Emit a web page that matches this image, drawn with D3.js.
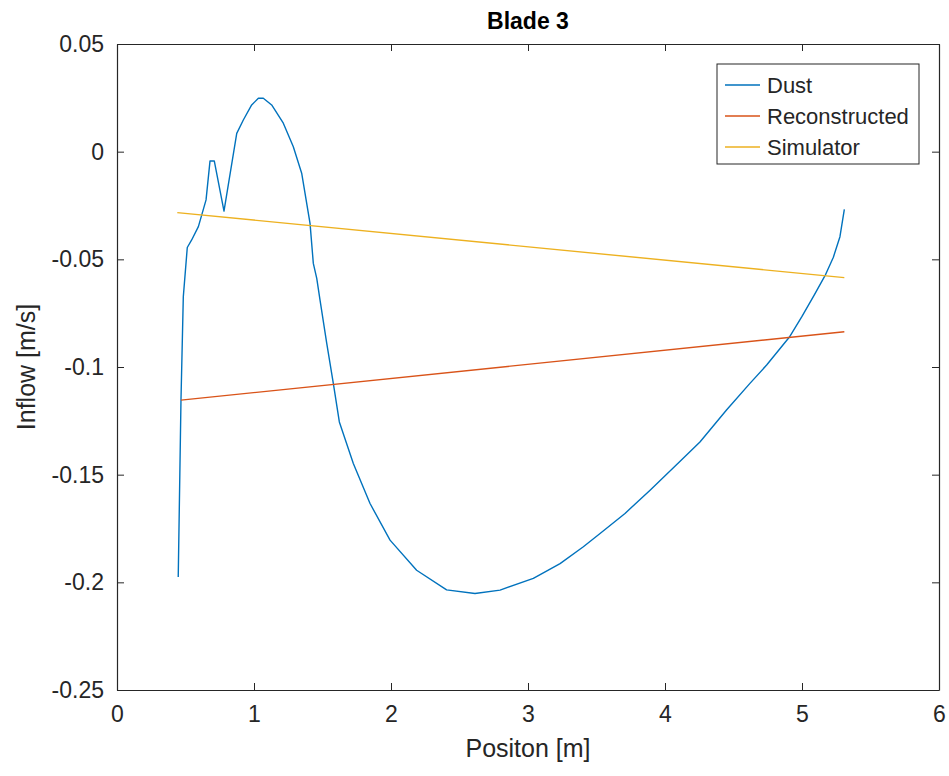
<!DOCTYPE html>
<html>
<head>
<meta charset="utf-8">
<script src="https://cdn.jsdelivr.net/npm/d3@7"></script>
<style>
  body { margin: 0; background: #fff; }
  svg { font-family: "Liberation Sans", Arial, sans-serif; }
</style>
</head>
<body>
<div id="chart"></div>
<script>
// Dust curve (position [m], inflow [m/s])
const dustX = [0.447, 0.467, 0.484, 0.513, 0.545, 0.594, 0.650, 0.679, 0.710, 0.781, 0.874, 0.922, 0.983, 1.032, 1.068,
  1.129, 1.214, 1.287, 1.348, 1.409, 1.433, 1.458, 1.482, 1.531, 1.579, 1.623, 1.725, 1.847, 1.993, 2.187, 2.406, 2.613,
  2.796, 3.039, 3.234, 3.404, 3.526, 3.708, 3.891, 4.131, 4.255, 4.449, 4.620, 4.742, 4.907, 5.0, 5.09, 5.168,
  5.229, 5.277, 5.309];
const dustY = [-0.1975, -0.1154, -0.0674, -0.0445, -0.041, -0.0348, -0.0224, -0.0043, -0.0043, -0.0276, 0.0085, 0.0147, 0.0217, 0.0248, 0.0248,
  0.0217, 0.0132, 0.0023, -0.0100, -0.0333, -0.0519, -0.0588, -0.0689, -0.089, -0.1076, -0.1255, -0.1448, -0.1634, -0.1804, -0.1944, -0.2035, -0.2052,
  -0.2036, -0.1982, -0.1913, -0.1835, -0.1773, -0.168, -0.1572, -0.1425, -0.1348, -0.12, -0.1076, -0.0991, -0.0862, -0.0765, -0.0665, -0.0576,
  -0.0490, -0.0395, -0.0268];

// straight lines: start and end points
const reconX = [0.467, 5.309];
const reconY = [-0.1154, -0.0836];
const simX = [0.44, 5.309];
const simY = [-0.0283, -0.0585];

const seriesNames = ['Dust', 'Reconstructed', 'Simulator'];
const seriesColors = ['#0072BD', '#D95319', '#EDB120'];
const xTicks = [0, 1, 2, 3, 4, 5, 6];
const yTicks = [0.05, 0, -0.05, -0.1, -0.15, -0.2, -0.25];

const width = 949, height = 776;
const margin = { left: 117, top: 44, right: 10, bottom: 86 };

const svg = d3.select('#chart').append('svg')
  .attr('width', width)
  .attr('height', height);

const x = d3.scaleLinear().domain([0, 6]).range([margin.left, width - margin.right]);
const y = d3.scaleLinear().domain([-0.25, 0.05]).range([height - margin.bottom, margin.top]);

const fmt = d => d === 0 ? '0' : String(d);

// axes (box style, ticks inside)
const axisColor = '#262626';
const gx = svg.append('g').attr('transform', `translate(0,${y(-0.25)})`)
  .call(d3.axisBottom(x).tickValues(xTicks).tickSizeInner(-7).tickSizeOuter(0).tickPadding(16).tickFormat(d3.format('d')));
const gxTop = svg.append('g').attr('transform', `translate(0,${y(0.05)})`)
  .call(d3.axisTop(x).tickValues(xTicks).tickSizeInner(-7).tickSizeOuter(0).tickFormat(''));
const gy = svg.append('g').attr('transform', `translate(${x(0)},0)`)
  .call(d3.axisLeft(y).tickValues(yTicks).tickSizeInner(-7).tickSizeOuter(0).tickPadding(13).tickFormat(fmt));
const gyRight = svg.append('g').attr('transform', `translate(${x(6)},0)`)
  .call(d3.axisRight(y).tickValues(yTicks).tickSizeInner(-7).tickSizeOuter(0).tickFormat(''));

[gx, gxTop, gy, gyRight].forEach(g => {
  g.select('.domain').attr('stroke', axisColor).attr('stroke-width', 1.2);
  g.selectAll('.tick line').attr('stroke', axisColor).attr('stroke-width', 1);
  g.selectAll('.tick text').attr('fill', axisColor).style('font-size', '23px')
    .style('font-family', '"Liberation Sans", Arial, sans-serif');
});

// lines
const line = d3.line().x(d => x(d[0])).y(d => y(d[1]));
const series = [
  d3.zip(dustX, dustY),
  d3.zip(reconX, reconY),
  d3.zip(simX, simY)
];

svg.append('g').selectAll('path')
  .data(series)
  .join('path')
  .attr('d', line)
  .attr('fill', 'none')
  .attr('stroke', (d, i) => seriesColors[i])
  .attr('stroke-width', 1.4)
  .attr('stroke-linejoin', 'round');

// title & labels
svg.append('text')
  .attr('x', (x(0) + x(6)) / 2)
  .attr('y', 29)
  .attr('text-anchor', 'middle')
  .style('font-size', '23px')
  .style('font-weight', 'bold')
  .attr('fill', '#000')
  .text('Blade 3');

svg.append('text')
  .attr('x', (x(0) + x(6)) / 2)
  .attr('y', 757)
  .attr('text-anchor', 'middle')
  .style('font-size', '25px')
  .attr('fill', axisColor)
  .text('Positon [m]');

svg.append('text')
  .attr('transform', `translate(35,${(y(0.05) + y(-0.25)) / 2}) rotate(-90)`)
  .attr('text-anchor', 'middle')
  .style('font-size', '25px')
  .attr('fill', axisColor)
  .text('Inflow [m/s]');

// legend
const legend = svg.append('g').attr('transform', 'translate(717,64)');
legend.append('rect')
  .attr('width', 202)
  .attr('height', 100)
  .attr('fill', '#fff')
  .attr('stroke', axisColor)
  .attr('stroke-width', 1);

const items = legend.selectAll('g.item')
  .data(seriesNames)
  .join('g')
  .attr('class', 'item')
  .attr('transform', (d, i) => `translate(0,${21 + i * 31})`);

items.append('line')
  .attr('x1', 8).attr('x2', 43)
  .attr('stroke', (d, i) => seriesColors[i])
  .attr('stroke-width', 1.4);

items.append('text')
  .attr('x', 50)
  .attr('dy', '0.35em')
  .style('font-size', '22px')
  .attr('fill', axisColor)
  .text(d => d);
</script>
</body>
</html>
